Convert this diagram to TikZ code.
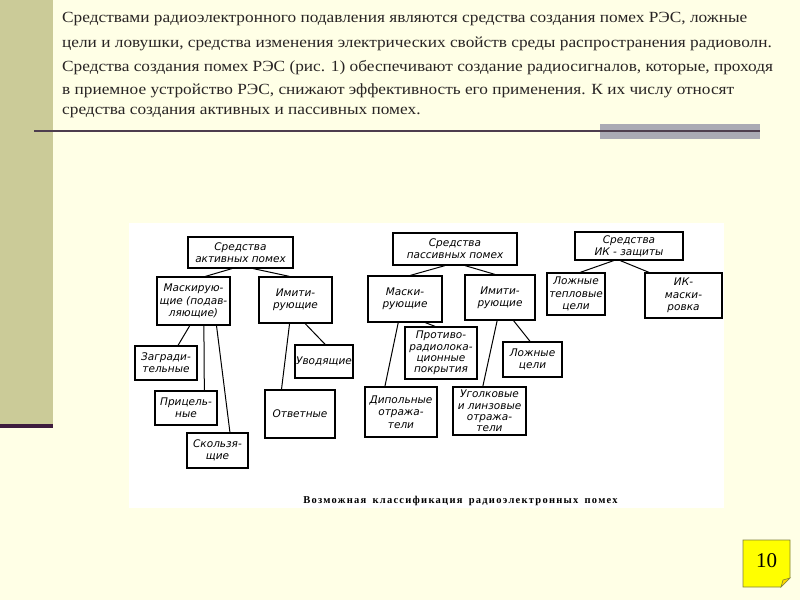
\documentclass[tikz,border=0pt]{standalone}
\usepackage{fontspec}
\setmainfont{Liberation Serif}
\newfontfamily\boxfont{DejaVu Sans}
\newfontfamily\capfont[LetterSpace=12]{Liberation Serif}
\usetikzlibrary{calc}
\definecolor{bgc}{RGB}{255,255,230}
\definecolor{barc}{RGB}{203,203,152}
\definecolor{barline}{RGB}{62,28,62}
\definecolor{topline}{RGB}{78,62,78}
\definecolor{grayrect}{RGB}{170,170,180}
\definecolor{txt}{RGB}{40,36,36}
\definecolor{pagefill}{RGB}{255,255,0}
\definecolor{pageedge}{RGB}{130,130,60}
\newcommand{\wide}[1]{\scalebox{1.115}[1]{#1}}
\tikzset{
  bx/.style={draw=black, line width=1.2pt, fill=white, inner sep=0pt, align=center,
    font=\boxfont\itshape\fontsize{10.5}{12.3}\selectfont},
  tight/.style={font=\boxfont\itshape\fontsize{10.5}{11.2}\selectfont},
  conn/.style={line width=1pt, black},
  para/.style={anchor=west, inner sep=0pt, text=txt, font=\fontsize{15.5}{18}\selectfont}
}
\begin{document}
\begin{tikzpicture}[x=1pt,y=-1pt]
\useasboundingbox (0,0) rectangle (800,600);
\fill[bgc] (0,0) rectangle (800,600);
% left bar
\fill[barc] (0,0) rectangle (53,425);
\fill[barline] (0,424) rectangle (53,428);
% paragraph
\node[para] (l1) at (62,19) {\wide{Средствами радиоэлектронного подавления являются средства создания помех РЭС, ложные}};
\node[para] (l2) at (62,43.5) {\wide{цели и ловушки, средства изменения электрических свойств среды распространения радиоволн.}};
\node[para] (l3) at (62,67.5) {\wide{Средства создания помех РЭС (рис. 1) обеспечивают создание радиосигналов, которые, проходя}};
\node[para] (l4) at (62,91) {\wide{в приемное устройство РЭС, снижают эффективность его применения. К их числу относят}};
\node[para] (l5) at (62,112) {\wide{средства создания активных и пассивных помех.}};
% separator
\fill[grayrect] (600,124) rectangle (760,139);
\draw[topline, line width=2.2pt] (34,131) -- (760,131);
% white diagram area
\fill[white] (129,223) rectangle (724,508);
% active
\node[bx, minimum width=105pt, minimum height=31pt] (A0) at (240.5,252.5) {Средства\\активных помех};
\node[bx, minimum width=73pt, minimum height=48pt] (A1) at (193.5,301) {Маскирую-\\щие (подав-\\ляющие)};
\node[bx, minimum width=73pt, minimum height=46pt] (A2) at (295.5,300) {Имити-\\рующие};
\node[bx, minimum width=62pt, minimum height=34pt] (A3) at (166,363) {Загради-\\тельные};
\node[bx, minimum width=62pt, minimum height=34pt] (A4) at (186,408) {Прицель-\\ные};
\node[bx, minimum width=61pt, minimum height=35pt] (A5) at (217.5,450.5) {Скользя-\\щие};
\node[bx, minimum width=58pt, minimum height=33pt] (A6) at (324,361.5) {Уводящие};
\node[bx, minimum width=70pt, minimum height=48pt] (A7) at (300,414) {Ответные};
% passive
\node[bx, minimum width=124pt, minimum height=32pt] (P0) at (455,249) {Средства\\пассивных помех};
\node[bx, minimum width=74pt, minimum height=46pt] (P1) at (405,299) {Маски-\\рующие};
\node[bx, minimum width=70pt, minimum height=45pt] (P2) at (500,297.5) {Имити-\\рующие};
\node[bx, tight, minimum width=72pt, minimum height=52pt] (P3) at (441,353) {Противо-\\радиолока-\\ционные\\покрытия};
\node[bx, minimum width=59pt, minimum height=35pt] (P4) at (532.5,359.5) {Ложные\\цели};
\node[bx, minimum width=72pt, minimum height=50pt] (P5) at (401,412) {Дипольные\\отража-\\тели};
\node[bx, tight, minimum width=73pt, minimum height=48pt] (P6) at (489.5,411) {Уголковые\\и линзовые\\отража-\\тели};
% IR
\node[bx, minimum width=108pt, minimum height=28pt] (I0) at (629,246) {Средства\\ИК - защиты};
\node[bx, minimum width=58pt, minimum height=42pt] (I1) at (576,294) {Ложные\\тепловые\\цели};
\node[bx, minimum width=77pt, minimum height=45pt] (I2) at (683.5,295.5) {ИК-\\маски-\\ровка};
% connectors
\draw[conn] ($(A0.south west)!0.42!(A0.south east)$) -- ($(A1.north west)!0.66!(A1.north east)$);
\draw[conn] ($(A0.south west)!0.62!(A0.south east)$) -- ($(A2.north west)!0.42!(A2.north east)$);
\draw[conn] ($(A1.south west)!0.45!(A1.south east)$) -- ($(A3.north west)!0.69!(A3.north east)$);
\draw[conn] ($(A1.south west)!0.64!(A1.south east)$) -- ($(A4.north west)!0.79!(A4.north east)$);
\draw[conn] ($(A1.south west)!0.81!(A1.south east)$) -- ($(A5.north west)!0.70!(A5.north east)$);
\draw[conn] ($(A2.south west)!0.42!(A2.south east)$) -- ($(A7.north west)!0.24!(A7.north east)$);
\draw[conn] ($(A2.south west)!0.63!(A2.south east)$) -- ($(A6.north west)!0.52!(A6.north east)$);
\draw[conn] ($(P0.south west)!0.42!(P0.south east)$) -- ($(P1.north west)!0.57!(P1.north east)$);
\draw[conn] ($(P0.south west)!0.58!(P0.south east)$) -- ($(P2.north west)!0.43!(P2.north east)$);
\draw[conn] ($(P1.south west)!0.41!(P1.south east)$) -- ($(P5.north west)!0.28!(P5.north east)$);
\draw[conn] ($(P1.south west)!0.77!(P1.south east)$) -- ($(P3.north west)!0.42!(P3.north east)$);
\draw[conn] ($(P2.south west)!0.46!(P2.south east)$) -- ($(P6.north west)!0.41!(P6.north east)$);
\draw[conn] ($(P2.south west)!0.69!(P2.south east)$) -- ($(P4.north west)!0.46!(P4.north east)$);
\draw[conn] ($(I0.south west)!0.36!(I0.south east)$) -- ($(I1.north west)!0.57!(I1.north east)$);
\draw[conn] ($(I0.south west)!0.42!(I0.south east)$) -- ($(I2.north west)!0.06!(I2.north east)$);
% caption
\node[inner sep=0pt, font=\capfont\bfseries\fontsize{10.5}{12}\selectfont] (cap) at (460.5,501) {Возможная\hspace{0.6em}классификация\hspace{0.6em}радиоэлектронных\hspace{0.6em}помех};
% page number
\draw[pageedge, fill=pagefill, line width=0.6pt] (743,540) -- (790,540) -- (790,578) -- (781,587) -- (743,587) -- cycle;
\draw[pageedge, fill=pagefill!70!orange, line width=0.6pt] (790,578) -- (783,580) -- (781,587) -- cycle;
\node[inner sep=0pt, font=\fontsize{21}{24}\selectfont] (num) at (766.5,561) {10};
\end{tikzpicture}
\end{document}
